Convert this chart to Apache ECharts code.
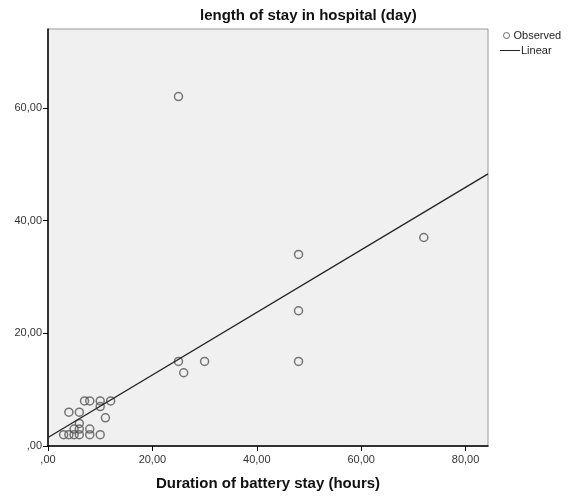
<!DOCTYPE html>
<html>
<head>
<meta charset="utf-8">
<script src="https://cdn.jsdelivr.net/npm/echarts@6/dist/echarts.min.js"></script>
<style>
  html, body { margin: 0; padding: 0; background: #fff; }
  #main { width: 574px; height: 499px; }
</style>
</head>
<body>
<div id="main"></div>
<script>
  // observed points: battery stay (hours) vs hospital stay (days)
  var obsX = [25, 72, 48, 48, 25, 30, 48, 26, 7, 8, 10, 12, 10, 4, 6, 11, 6, 5, 6, 8, 3, 4, 5, 6, 8, 10];
  var obsY = [62, 37, 34, 24, 15, 15, 15, 13, 8, 8, 8, 8, 7, 6, 6, 5, 4, 3, 3, 3, 2, 2, 2, 2, 2, 2];
  // fitted linear line, read at the plot edges
  var lineX = [0, 84.3];
  var lineY = [1.5, 48.3];
  var xTicks = [0, 20, 40, 60, 80];
  var yTicks = [0, 20, 40, 60];

  function fmt(v) {
    return v === 0 ? ',00' : v.toFixed(2).replace('.', ',');
  }

  var myChart = echarts.init(document.getElementById('main'));
  myChart.setOption({
    animation: false,
    title: {
      text: 'length of stay in hospital (day)',
      left: 195,
      top: 3,
      textStyle: {
        fontFamily: 'Liberation Sans',
        fontSize: 15,
        fontWeight: 'bold',
        color: '#111'
      }
    },
    legend: [
      {
        data: [{name: 'Observed', icon: 'circle', itemStyle: {color: 'transparent', borderColor: '#444', borderWidth: 1}}],
        left: 498,
        top: 25,
        itemWidth: 6,
        itemHeight: 6,
        itemGap: 4,
        textStyle: {fontFamily: 'Liberation Sans', fontSize: 11, color: '#222', padding: [0, 0, 0, -1]}
      },
      {
        data: [{name: 'Linear', icon: 'rect', itemStyle: {color: '#222'}}],
        left: 495,
        top: 40,
        itemWidth: 20,
        itemHeight: 1,
        itemGap: 4,
        textStyle: {fontFamily: 'Liberation Sans', fontSize: 11, color: '#222', padding: [0, 0, 0, -4]}
      }
    ],
    grid: {
      show: true,
      left: 48,
      top: 29,
      right: 86,
      bottom: 53,
      backgroundColor: '#f0f0f0',
      borderColor: '#999',
      borderWidth: 1
    },
    xAxis: {
      type: 'value',
      min: 0,
      max: 84.3,
      name: 'Duration of battery stay (hours)',
      nameLocation: 'middle',
      nameGap: 30,
      nameTextStyle: {
        fontFamily: 'Liberation Sans',
        fontSize: 15,
        fontWeight: 'bold',
        color: '#111'
      },
      splitLine: {show: false},
      axisLine: {show: true, lineStyle: {color: '#000', width: 1.5}},
      axisTick: {show: true, length: 5, customValues: xTicks, lineStyle: {color: '#000'}},
      axisLabel: {
        customValues: xTicks,
        margin: 8,
        fontFamily: 'Liberation Sans',
        fontSize: 11,
        color: '#333',
        formatter: fmt
      }
    },
    yAxis: {
      type: 'value',
      min: 0,
      max: 74,
      splitLine: {show: false},
      axisLine: {show: true, lineStyle: {color: '#000', width: 1.5}},
      axisTick: {show: true, length: 5, customValues: yTicks, lineStyle: {color: '#000'}},
      axisLabel: {
        customValues: yTicks,
        margin: 6,
        fontFamily: 'Liberation Sans',
        fontSize: 11,
        color: '#333',
        formatter: fmt
      }
    },
    series: [
      {
        name: 'Observed',
        type: 'scatter',
        symbol: 'circle',
        symbolSize: 8,
        itemStyle: {color: 'transparent', borderColor: '#555', borderWidth: 1.5},
        data: obsX.map(function (x, i) { return [x, obsY[i]]; })
      },
      {
        name: 'Linear',
        type: 'line',
        symbol: 'none',
        lineStyle: {color: '#222', width: 1.3},
        data: lineX.map(function (x, i) { return [x, lineY[i]]; })
      }
    ]
  });
</script>
</body>
</html>
